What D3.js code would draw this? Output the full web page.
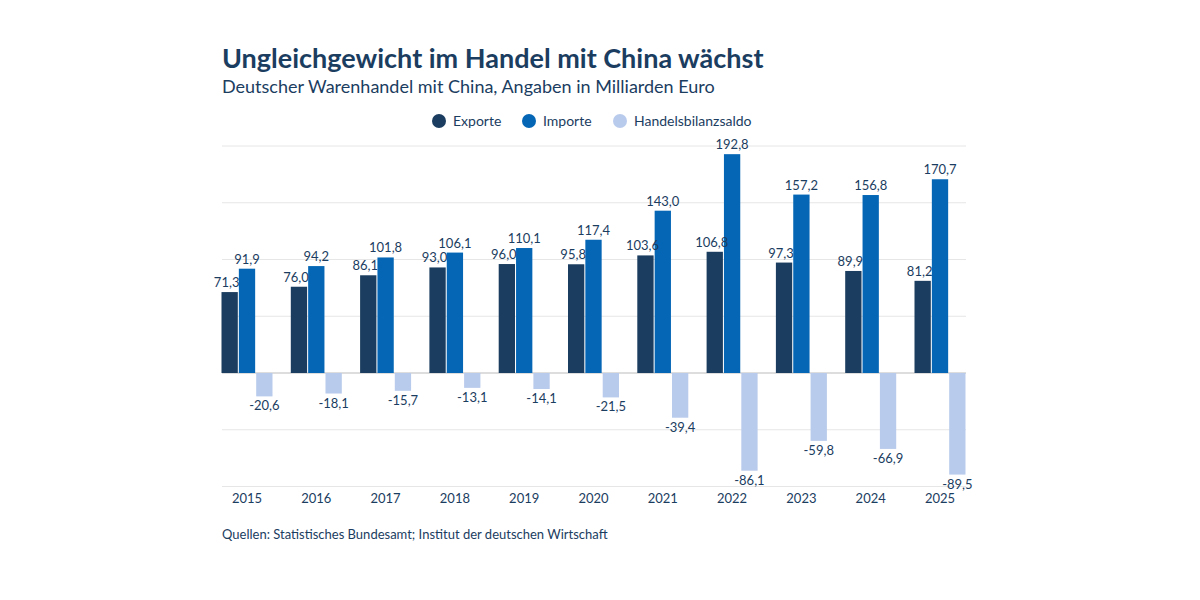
<!DOCTYPE html>
<html lang="de">
<head>
<meta charset="UTF-8">
<title>Ungleichgewicht im Handel mit China</title>
<script src="https://d3js.org/d3.v7.min.js"></script>
<style>
  body { margin: 0; background: #fff; font-family: "Source Sans Pro", Lato, sans-serif; }
</style>
</head>
<body>
<svg id="chart" width="1200" height="600"></svg>
<script>
var years = ["2015","2016","2017","2018","2019","2020","2021","2022","2023","2024","2025"];
var exporte = [71.3, 76.0, 86.1, 93.0, 96.0, 95.8, 103.6, 106.8, 97.3, 89.9, 81.2];
var importe = [91.9, 94.2, 101.8, 106.1, 110.1, 117.4, 143.0, 192.8, 157.2, 156.8, 170.7];
var saldo = [-20.6, -18.1, -15.7, -13.1, -14.1, -21.5, -39.4, -86.1, -59.8, -66.9, -89.5];
var seriesNames = ["Exporte", "Importe", "Handelsbilanzsaldo"];
var colors = ["#1b3d5f", "#0466b5", "#b9cbec"];
var gridTicks = [-100, -50, 0, 50, 100, 150, 200];

var svg = d3.select("#chart");
var textCol = "#1b3d5f";

var x = d3.scaleBand().domain(years).range([212.35, 974.65]);
var inner = d3.scaleBand().domain(seriesNames).range([-25.5, 25.5]).paddingInner(0.06);
var y = d3.scaleLinear().domain([-100, 200]).range([486.5, 146]);

// title
svg.append("text").attr("x", 222).attr("y", 68).attr("font-size", 27).attr("font-weight", 700)
  .attr("fill", textCol).text("Ungleichgewicht im Handel mit China wächst");
svg.append("text").attr("x", 222).attr("y", 93).attr("font-size", 18)
  .attr("fill", textCol).text("Deutscher Warenhandel mit China, Angaben in Milliarden Euro");

// legend
var legX = [439, 529, 620];
var leg = svg.append("g").selectAll("g").data(seriesNames).join("g")
  .attr("transform", function(d, i) { return "translate(" + legX[i] + ",121)"; });
leg.append("circle").attr("r", 7).attr("fill", function(d, i) { return colors[i]; });
leg.append("text").attr("x", 14).attr("y", 5).attr("font-size", 14).attr("fill", textCol)
  .text(function(d) { return d; });

// grid
svg.append("g").selectAll("line").data(gridTicks).join("line")
  .attr("x1", 222).attr("x2", 966)
  .attr("y1", function(d) { return y(d); }).attr("y2", function(d) { return y(d); })
  .attr("stroke", function(d) { return d === 0 ? "#bbb" : "#e6e6e6"; }).attr("stroke-width", 1);

var data = [exporte, importe, saldo];
var rows = [];
years.forEach(function(yr, i) {
  seriesNames.forEach(function(s, k) { rows.push({ year: yr, s: s, k: k, v: data[k][i] }); });
});

var bx = function(d) { return x(d.year) + x.bandwidth() / 2 + inner(d.s); };
svg.append("g").selectAll("rect").data(rows).join("rect")
  .attr("x", bx).attr("width", inner.bandwidth())
  .attr("y", function(d) { return y(Math.max(0, d.v)); })
  .attr("height", function(d) { return Math.abs(y(d.v) - y(0)); })
  .attr("fill", function(d) { return colors[d.k]; });

svg.append("g").selectAll("text").data(rows).join("text")
  .attr("x", function(d) { return bx(d) + inner.bandwidth() / 2 - (d.k === 0 ? 3 : 0); })
  .attr("y", function(d) { return d.v >= 0 ? y(d.v) - 5 : y(d.v) + 14; })
  .attr("text-anchor", "middle").attr("font-size", 13).attr("fill", textCol)
  .text(function(d) { return d3.format(".1f")(d.v).replace(".", ",").replace("−", "-"); });

// x axis labels
svg.append("g").selectAll("text").data(years).join("text")
  .attr("x", function(d) { return x(d) + x.bandwidth() / 2; }).attr("y", 503)
  .attr("text-anchor", "middle").attr("font-size", 13).attr("fill", textCol)
  .text(function(d) { return d; });

svg.append("text").attr("x", 222).attr("y", 539).attr("font-size", 13).attr("fill", textCol)
  .text("Quellen: Statistisches Bundesamt; Institut der deutschen Wirtschaft");
</script>
</body>
</html>
